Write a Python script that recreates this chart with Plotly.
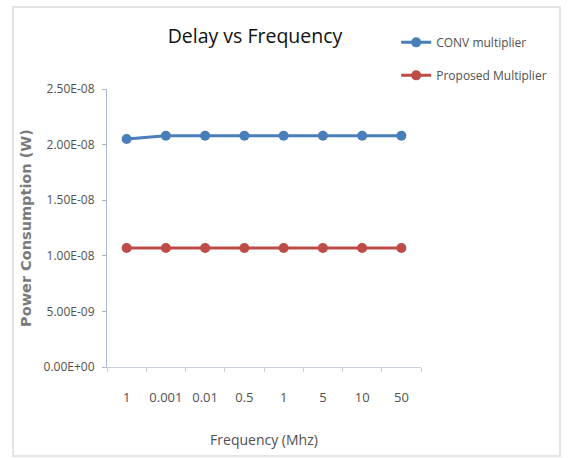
import plotly.graph_objects as go

freq_labels = ["1", "0.001", "0.01", "0.5", "1", "5", "10", "50"]
conv_values = [2.05e-8, 2.08e-8, 2.08e-8, 2.08e-8, 2.08e-8, 2.08e-8, 2.08e-8, 2.08e-8]
proposed_values = [1.07e-8, 1.07e-8, 1.07e-8, 1.07e-8, 1.07e-8, 1.07e-8, 1.07e-8, 1.07e-8]
y_tick_vals = [0, 5e-9, 1e-8, 1.5e-8, 2e-8, 2.5e-8]
y_tick_text = ["0.00E+00", "5.00E-09", "1.00E-08", "1.50E-08", "2.00E-08", "2.50E-08"]

x_idx = list(range(len(freq_labels)))
boundaries = [i - 0.5 for i in range(len(freq_labels) + 1)]

fig = go.Figure()
fig.add_trace(go.Scatter(
    x=x_idx, y=conv_values, name="CONV multiplier", mode="lines+markers",
    line=dict(color="#4a7ebb", width=3), marker=dict(size=10, color="#4a7ebb"),
    legendgroup="a"))
fig.add_trace(go.Scatter(
    x=x_idx, y=proposed_values, name="Proposed Multiplier", mode="lines+markers",
    line=dict(color="#be4b48", width=3), marker=dict(size=10, color="#be4b48"),
    legendgroup="b"))

axis_col = "#a9b8cc"
txt_col = "#505050"
fig.update_layout(
    width=570, height=458,
    margin=dict(l=107, r=149, t=89, b=91),
    paper_bgcolor="white", plot_bgcolor="white",
    font=dict(family="Open Sans", size=12, color=txt_col),
    title=dict(text="Delay vs Frequency", x=(255 - 107) / 314, xref="paper",
               xanchor="center", y=1 - 36 / 458, yanchor="middle",
               font=dict(family="Open Sans", size=19.5, color="#111111")),
    legend=dict(x=0.921, y=1.22, xanchor="left", yanchor="top",
                font=dict(family="Open Sans", size=12, color=txt_col),
                tracegroupgap=14, bgcolor="rgba(0,0,0,0)", itemwidth=30),
    showlegend=True,
)
fig.update_xaxes(
    range=[-0.5, len(freq_labels) - 0.5],
    tickvals=x_idx, ticktext=freq_labels, ticks="",
    showline=True, linecolor="#c8cfd8", linewidth=1,
    showgrid=False, zeroline=False,
    ticklabelstandoff=18,
    minor=dict(tickvals=boundaries, ticks="outside", ticklen=4, tickcolor="#c8cfd8"),
    title=dict(text="Frequency (Mhz)", standoff=30,
               font=dict(family="Open Sans", size=14, color=txt_col)),
    tickfont=dict(family="Open Sans", size=13, color=txt_col),
)
fig.update_yaxes(
    range=[0, 2.5e-8], tickvals=y_tick_vals, ticktext=y_tick_text,
    ticks="outside", ticklen=4, tickcolor=axis_col,
    showline=True, linecolor=axis_col, linewidth=1,
    showgrid=False, zeroline=False,
    ticklabelstandoff=5,
    title=dict(text="<b>Power Consumption (W)</b>", standoff=8,
               font=dict(family="DejaVu Sans", size=14.5, color="#7a7a7a")),
    tickfont=dict(family="Open Sans", size=12, color=txt_col),
)
# light outer border of the chart area
fig.add_shape(type="rect", xref="paper", yref="paper",
              x0=(13 - 107) / 314, x1=(560 - 107) / 314,
              y0=(367 - 456) / 278, y1=(367 - 7) / 278,
              line=dict(color="#e4e4e4", width=2), fillcolor="rgba(0,0,0,0)", layer="below")

fig.write_html("out.html")
